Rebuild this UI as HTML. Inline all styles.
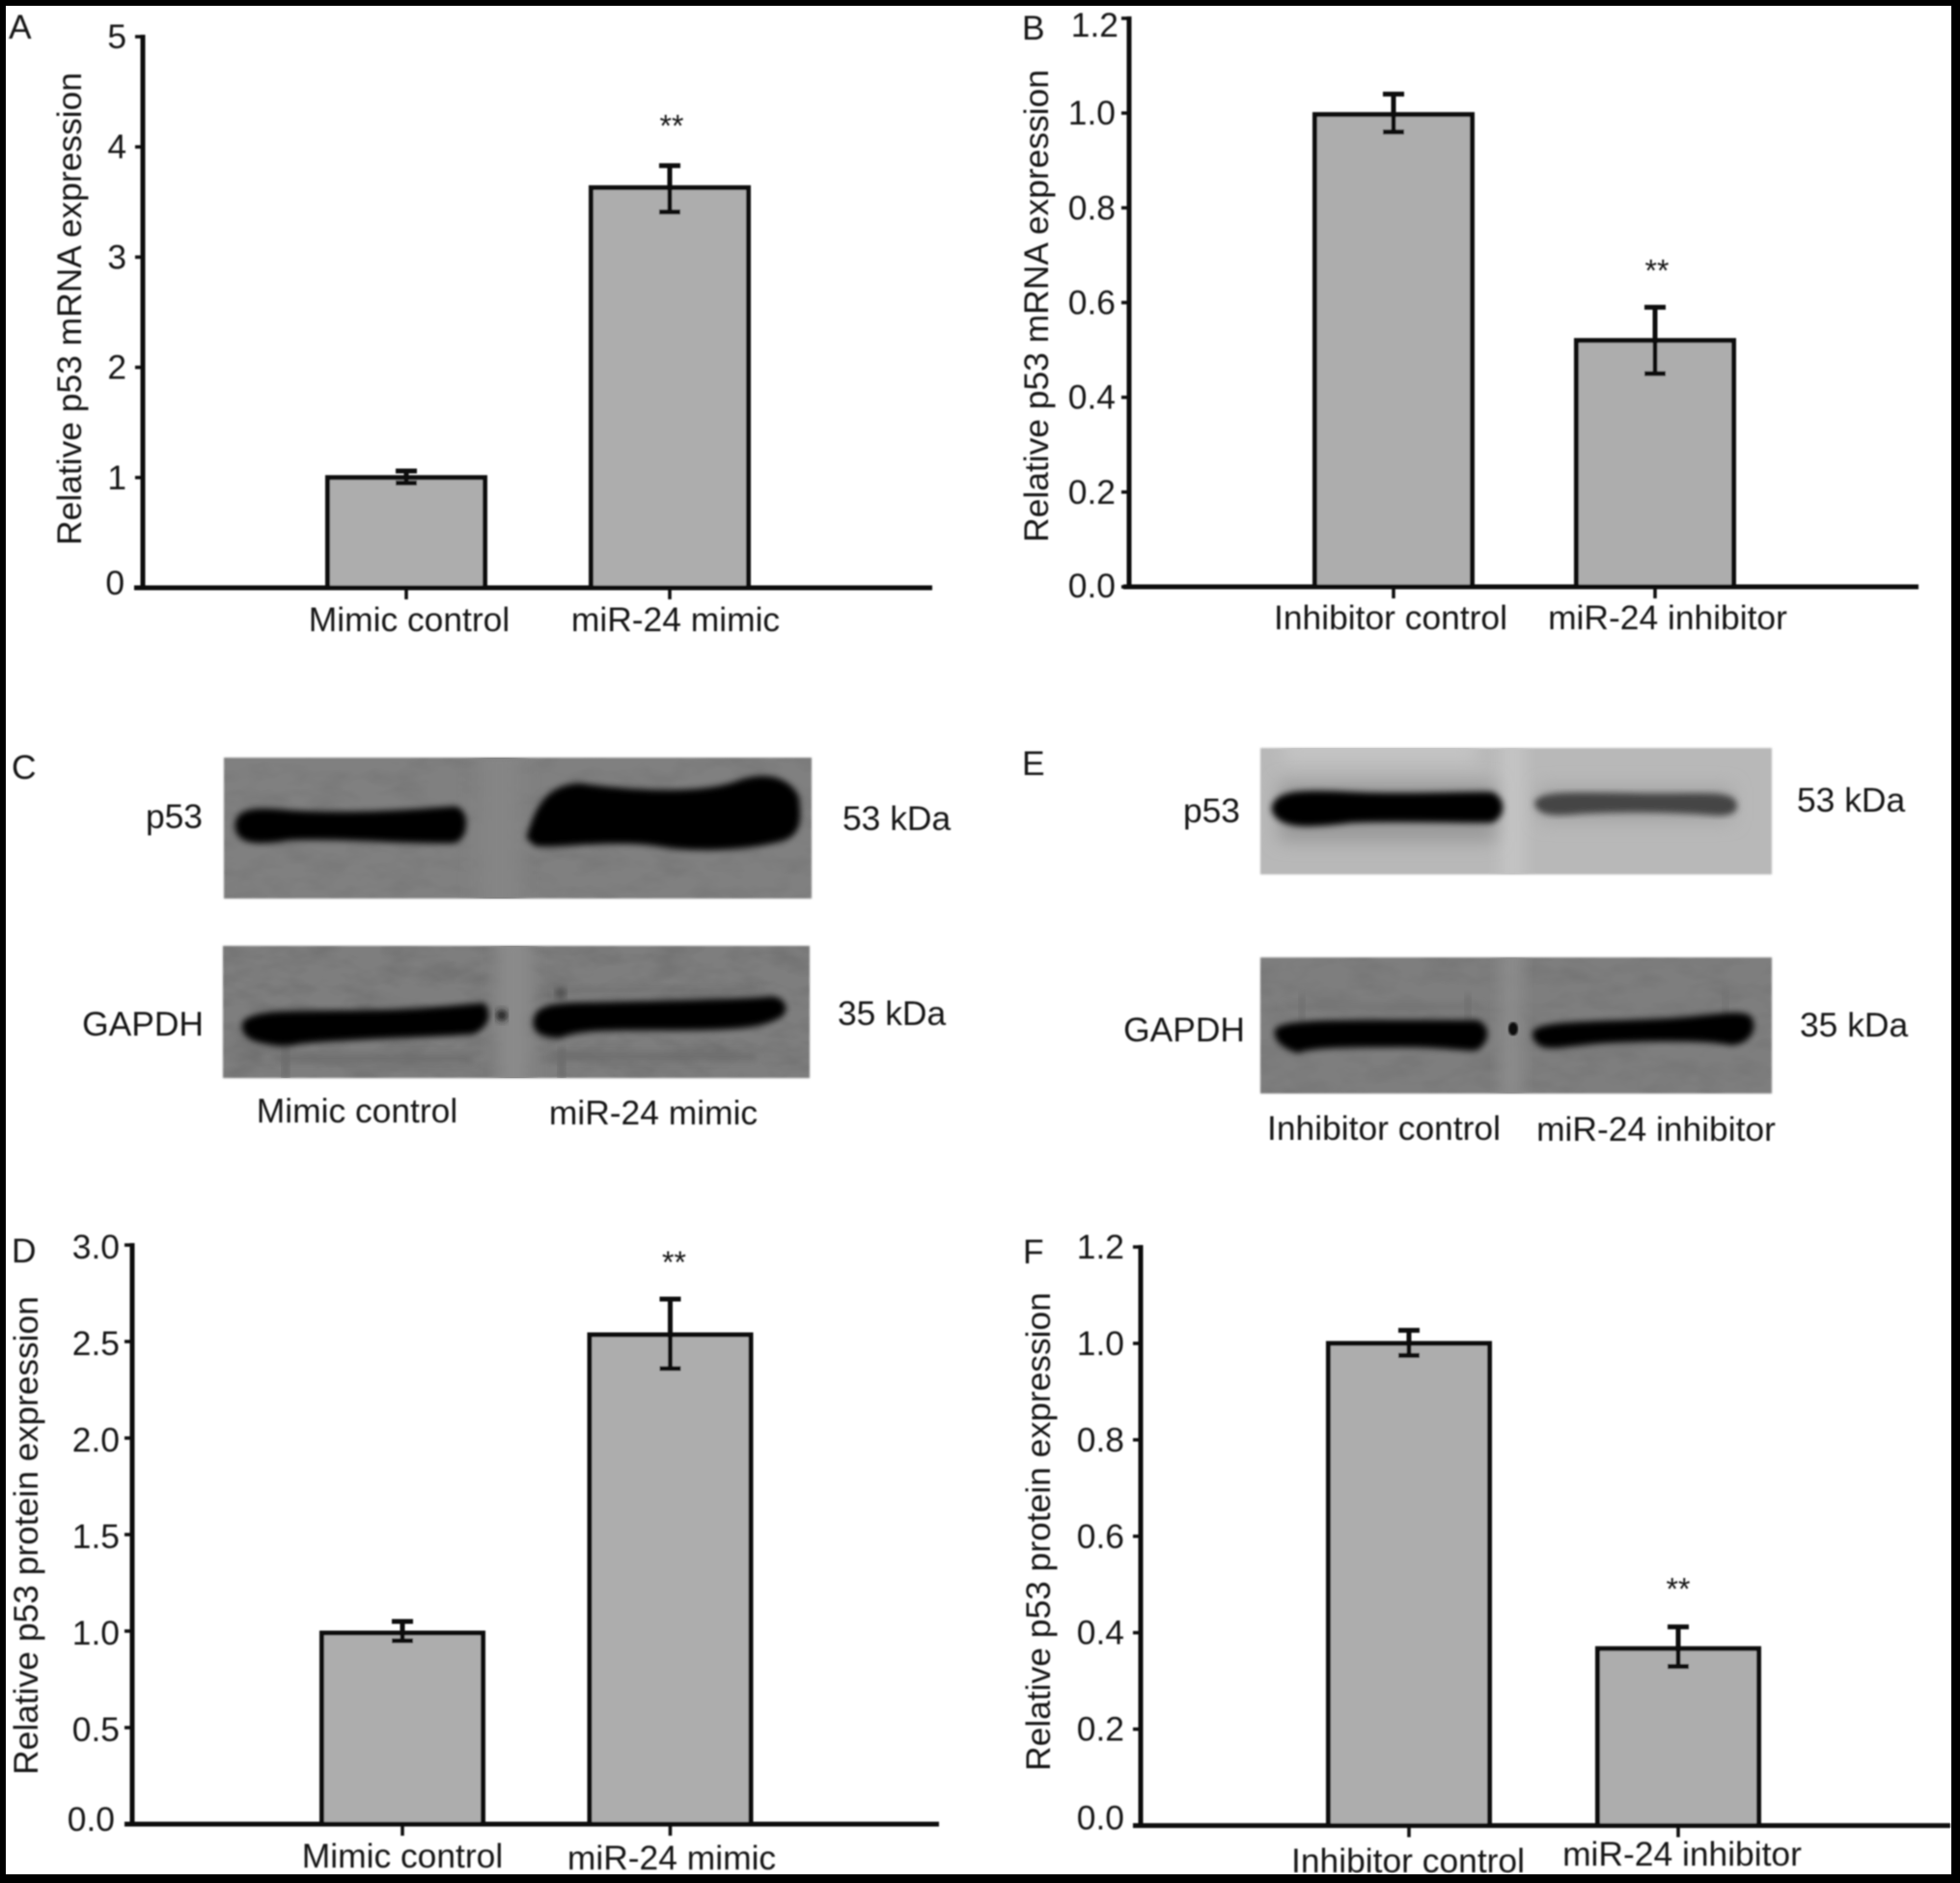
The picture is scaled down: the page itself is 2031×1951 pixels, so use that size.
<!DOCTYPE html>
<html lang="en">
<head>
<meta charset="utf-8">
<title>p53 expression after miR-24 mimic or inhibitor</title>
<style>
html,body{margin:0;padding:0;background:#fff;}
svg{display:block;}
text{font-family:"Liberation Sans",sans-serif;fill:#131313;font-size:35.4px;}
</style>
</head>
<body>
<svg id="figure" xmlns="http://www.w3.org/2000/svg" width="2031" height="1951" viewBox="0 0 2031 1951">
  <defs>
    <filter id="soft" x="-5%" y="-5%" width="110%" height="110%"><feGaussianBlur stdDeviation="0.7"/></filter>
    <filter id="bandBlur" x="-10%" y="-40%" width="120%" height="180%"><feGaussianBlur stdDeviation="3.4"/></filter>
    <filter id="faintBlur" x="-10%" y="-150%" width="120%" height="400%"><feGaussianBlur stdDeviation="4"/></filter>
    <filter id="smudge" x="-60%" y="-60%" width="220%" height="220%"><feGaussianBlur stdDeviation="9"/></filter>
    <filter id="edgeBlur" x="-2%" y="-3%" width="104%" height="106%"><feGaussianBlur stdDeviation="1"/></filter>
    <filter id="mottle" x="0" y="0" width="100%" height="100%">
      <feTurbulence type="fractalNoise" baseFrequency="0.025 0.05" numOctaves="3" seed="7"/>
      <feColorMatrix type="matrix" values="0 0 0 0 0  0 0 0 0 0  0 0 0 0 0  1.6 0 0 0 -0.62"/>
    </filter>
    <clipPath id="clipC1"><rect x="232" y="785" width="609" height="146"/></clipPath>
    <clipPath id="clipC2"><rect x="231" y="980" width="608" height="137"/></clipPath>
    <clipPath id="clipE1"><rect x="1306" y="775" width="530" height="131"/></clipPath>
    <clipPath id="clipE2"><rect x="1306" y="992" width="530" height="141"/></clipPath>
  </defs>
  <rect x="0" y="0" width="2031" height="1951" fill="#ffffff"/>

  <g id="charts" filter="url(#soft)"></g>

  <g>
    <rect x="232" y="785" width="609" height="146" fill="#808080" filter="url(#edgeBlur)"/>
    <g clip-path="url(#clipC1)">
      <rect x="232" y="785" width="609" height="146" filter="url(#mottle)" opacity="0.08"/>
      <rect x="495" y="770" width="45" height="180" fill="#858585" filter="url(#smudge)"/>
      <path filter="url(#bandBlur)" fill="#060606" stroke="#060606" stroke-width="5" d="M246,855 C246,840 265,838 300,842 C360,846 420,842 470,838 C484,838 484,868 470,871 C420,872 360,866 300,868 C265,874 246,872 246,855 Z"/>
      <path filter="url(#bandBlur)" fill="#040404" stroke="#040404" stroke-width="3" d="M547,868 C555,840 565,815 600,813 C650,820 720,825 760,812 C790,800 815,805 826,825 C830,850 828,865 810,870 C770,880 720,882 680,875 C630,868 580,878 555,875 Z"/>
    </g>
    <rect x="231" y="980" width="608" height="137" fill="#7e7e7e" filter="url(#edgeBlur)"/>
    <g clip-path="url(#clipC2)">
      <rect x="231" y="980" width="608" height="137" filter="url(#mottle)" opacity="0.12"/>
      <rect x="515" y="965" width="35" height="170" fill="#8b8b8b" filter="url(#smudge)"/>
      <rect x="285" y="1093" width="205" height="7" fill="#6a6a6a" filter="url(#faintBlur)"/>
      <rect x="572" y="1091" width="212" height="7" fill="#6a6a6a" filter="url(#faintBlur)"/>
      <rect x="575" y="1024" width="210" height="4" fill="#6e6e6e" filter="url(#faintBlur)"/>
      <rect x="292" y="1085" width="8" height="32" fill="#6c6c6c" filter="url(#bandBlur)"/>
      <rect x="578" y="1085" width="8" height="32" fill="#6c6c6c" filter="url(#bandBlur)"/>
      <circle cx="581" cy="1029" r="6" fill="#505050" filter="url(#bandBlur)"/>
      <path filter="url(#bandBlur)" fill="#050505" stroke="#050505" stroke-width="7" d="M255,1060 C270,1048 310,1052 380,1050 C430,1050 470,1045 500,1043 C505,1050 505,1060 490,1068 C440,1072 370,1072 310,1078 C295,1082 285,1080 275,1078 C260,1075 252,1070 255,1060 Z"/>
      <circle cx="520" cy="1052" r="6" fill="#1a1a1a" filter="url(#bandBlur)"/>
      <path filter="url(#bandBlur)" fill="#050505" stroke="#050505" stroke-width="7" d="M556,1060 C556,1045 570,1042 620,1042 C680,1040 750,1040 800,1036 C815,1038 812,1050 805,1052 C790,1060 770,1064 700,1064 C650,1064 600,1062 580,1072 C565,1072 556,1068 556,1060 Z"/>
    </g>
  </g>

  <g>
    <rect x="1306" y="775" width="530" height="131" fill="#b8b8b8" filter="url(#edgeBlur)"/>
    <g clip-path="url(#clipE1)">
      <rect x="1556" y="760" width="22" height="160" fill="#c6c6c6" filter="url(#smudge)"/>
      <rect x="1330" y="760" width="200" height="30" fill="#c4c4c4" filter="url(#smudge)"/>
      <rect x="1325" y="810" width="225" height="62" fill="#9a9a9a" filter="url(#smudge)"/>
      <rect x="1595" y="815" width="200" height="36" fill="#a4a4a4" filter="url(#smudge)"/>
      <path filter="url(#bandBlur)" fill="#030303" stroke="#030303" stroke-width="5" d="M1320,838 C1322,822 1345,820 1400,823 C1460,826 1520,822 1545,823 C1558,828 1558,845 1545,850 C1500,850 1440,848 1400,850 C1360,855 1325,858 1320,838 Z"/>
      <path filter="url(#bandBlur)" fill="#444444" stroke="#444444" stroke-width="6" d="M1593,832 C1598,822 1640,824 1700,825 C1750,826 1785,822 1795,830 C1800,838 1795,842 1780,842 C1730,838 1680,838 1640,840 C1610,843 1595,842 1593,832 Z"/>
    </g>
    <rect x="1306" y="992" width="530" height="141" fill="#7e7e7e" filter="url(#edgeBlur)"/>
    <g clip-path="url(#clipE2)">
      <rect x="1306" y="992" width="530" height="141" filter="url(#mottle)" opacity="0.08"/>
      <rect x="1556" y="975" width="20" height="175" fill="#8e8e8e" filter="url(#smudge)"/>
      <rect x="1330" y="1040" width="205" height="5" fill="#727272" filter="url(#faintBlur)"/>
      <rect x="1346" y="1030" width="6" height="28" fill="#6e6e6e" filter="url(#bandBlur)"/>
      <rect x="1518" y="1030" width="6" height="28" fill="#6e6e6e" filter="url(#bandBlur)"/>
      <rect x="1785" y="1025" width="6" height="28" fill="#727272" filter="url(#bandBlur)"/>
      <path filter="url(#bandBlur)" fill="#050505" stroke="#050505" stroke-width="6" d="M1324,1068 C1335,1058 1400,1060 1530,1060 C1542,1065 1540,1078 1530,1085 C1520,1087 1510,1082 1450,1082 C1400,1082 1360,1082 1345,1088 C1335,1085 1322,1078 1324,1068 Z"/>
      <ellipse cx="1568" cy="1066" rx="5" ry="7" fill="#111111" filter="url(#edgeBlur)"/>
      <path filter="url(#bandBlur)" fill="#050505" stroke="#050505" stroke-width="6" d="M1591,1070 C1600,1060 1660,1062 1730,1058 C1770,1056 1800,1048 1812,1055 C1818,1065 1812,1078 1795,1080 C1770,1075 1720,1075 1660,1078 C1630,1080 1610,1085 1600,1082 C1594,1080 1590,1075 1591,1070 Z"/>
    </g>
  </g>

  <g filter="url(#soft)">
    <text x="12" y="807">C</text>
    <text x="210" y="858" text-anchor="end">p53</text>
    <text x="211" y="1073" text-anchor="end">GAPDH</text>
    <text x="873" y="860">53 kDa</text>
    <text x="868" y="1062">35 kDa</text>
    <text x="370" y="1163" text-anchor="middle">Mimic control</text>
    <text x="677" y="1165" text-anchor="middle">miR-24 mimic</text>

    <text x="1059" y="803">E</text>
    <text x="1285" y="852" text-anchor="end">p53</text>
    <text x="1290" y="1079" text-anchor="end">GAPDH</text>
    <text x="1862" y="841">53 kDa</text>
    <text x="1865" y="1074">35 kDa</text>
    <text x="1434" y="1181" text-anchor="middle">Inhibitor control</text>
    <text x="1716" y="1182" text-anchor="middle">miR-24 inhibitor</text>
  </g>

  <g fill="#000000">
    <rect x="0" y="0" width="2031" height="6"/>
    <rect x="0" y="0" width="6" height="1951"/>
    <rect x="2022" y="0" width="9" height="1951"/>
    <rect x="0" y="1942" width="2031" height="9"/>
  </g>
</svg>

<script>
// Panel A – p53 mRNA, mimic
const panelACategories = ["Mimic control", "miR-24 mimic"];
const panelAValues = [1.0, 3.63];
const panelAErrLow = [0.95, 3.41];
const panelAErrHigh = [1.06, 3.83];
const panelATicks = [0, 1, 2, 3, 4, 5];
const panelATickLabels = ["0", "1", "2", "3", "4", "5"];

// Panel B – p53 mRNA, inhibitor
const panelBCategories = ["Inhibitor control", "miR-24 inhibitor"];
const panelBValues = [0.997, 0.52];
const panelBErrLow = [0.96, 0.45];
const panelBErrHigh = [1.04, 0.59];
const panelBTicks = [0, 0.2, 0.4, 0.6, 0.8, 1.0, 1.2];
const panelBTickLabels = ["0.0", "0.2", "0.4", "0.6", "0.8", "1.0", "1.2"];

// Panel D – p53 protein, mimic
const panelDCategories = ["Mimic control", "miR-24 mimic"];
const panelDValues = [0.99, 2.535];
const panelDErrLow = [0.95, 2.36];
const panelDErrHigh = [1.05, 2.72];
const panelDTicks = [0, 0.5, 1.0, 1.5, 2.0, 2.5, 3.0];
const panelDTickLabels = ["0.0", "0.5", "1.0", "1.5", "2.0", "2.5", "3.0"];

// Panel F – p53 protein, inhibitor
const panelFCategories = ["Inhibitor control", "miR-24 inhibitor"];
const panelFValues = [1.0, 0.367];
const panelFErrLow = [0.975, 0.33];
const panelFErrHigh = [1.027, 0.412];
const panelFTicks = [0, 0.2, 0.4, 0.6, 0.8, 1.0, 1.2];
const panelFTickLabels = ["0.0", "0.2", "0.4", "0.6", "0.8", "1.0", "1.2"];

const SVG_NS = "http://www.w3.org/2000/svg";
const chartsRoot = document.getElementById("charts");

function make(parent, tag, attrs, content) {
  const el = document.createElementNS(SVG_NS, tag);
  for (const key in attrs) el.setAttribute(key, attrs[key]);
  if (content !== undefined) el.textContent = content;
  parent.appendChild(el);
  return el;
}

function drawPanel(p) {
  const group = make(chartsRoot, "g", {});
  
  

  const yScale = v => p.baseY - (v / p.maxTick) * (p.baseY - p.topY);
  const xBand = i => p.firstBar + i * p.barStep;
  const xLabel = i => p.firstLabel + i * p.labelStep;
  const ink = "#0a0a0a";

  const letter = make(group, "text", { x: p.letterX, y: p.letterY }, p.id.toUpperCase());
  
  

  const title = make(group, "text", {
    x: p.titleX, y: p.titleY, "text-anchor": "middle",
    transform: "rotate(-90 " + p.titleX + " " + p.titleY + ")"
  }, p.title);
  
  

  p.values.forEach((value, i) => {
    const cx = xBand(i);
    const bar = make(group, "rect", {
      x: cx - p.barWidth / 2, y: yScale(value),
      width: p.barWidth, height: p.baseY - yScale(value),
      fill: "#adadad", stroke: ink, "stroke-width": 5
    });
    
    

    const errY1 = yScale(p.errHigh[i]);
    const errY2 = yScale(p.errLow[i]);
    const err = make(group, "path", {
      d: "M" + cx + " " + errY1 + "V" + errY2 +
         "M" + (cx - 11) + " " + errY1 + "H" + (cx + 11) +
         "M" + (cx - 11) + " " + errY2 + "H" + (cx + 11),
      fill: "none", stroke: ink, "stroke-width": 5
    });
    
    

    const xTick = make(group, "line", {
      x1: cx, x2: cx, y1: p.baseY, y2: p.baseY + 12,
      stroke: ink, "stroke-width": 3.5
    });
    
    

    const label = make(group, "text", {
      x: xLabel(i), y: p.labelY + i * p.labelDrop, "text-anchor": "middle"
    }, p.categories[i]);
    
    
  });

  const sigIndex = p.sigBar;
  const stars = make(group, "text", {
    x: xBand(sigIndex) + p.starDx, y: yScale(p.errHigh[sigIndex]) - p.starGap + 14,
    "text-anchor": "middle", style: "font-size:32px"
  }, "**");
  
  

  const yAxis = make(group, "line", {
    x1: p.axisX, x2: p.axisX, y1: p.topY - 2, y2: p.baseY,
    stroke: ink, "stroke-width": 5
  });
  
  

  const xAxis = make(group, "line", {
    x1: p.xAxisStart, x2: p.xAxisEnd, y1: p.baseY, y2: p.baseY,
    stroke: ink, "stroke-width": 5
  });
  
  

  p.ticks.forEach((tick, i) => {
    const y = yScale(tick);
    const nudge = (p.nudges && p.nudges[i]) || { dx: 0, dy: 0 };
    const mark = make(group, "line", {
      x1: p.axisX - 8, x2: p.axisX, y1: y, y2: y,
      stroke: ink, "stroke-width": 3.5
    });
    
    

    const label = make(group, "text", {
      x: p.tickRight + nudge.dx, y: y + 12 + p.tickDy + nudge.dy, "text-anchor": "end"
    }, p.tickLabels[i]);
    
    
  });
}

drawPanel({
  id: "a", title: "Relative p53 mRNA expression",
  categories: panelACategories, values: panelAValues, errLow: panelAErrLow, errHigh: panelAErrHigh,
  ticks: panelATicks, tickLabels: panelATickLabels, maxTick: 5,
  axisX: 148, topY: 38, baseY: 609, xAxisStart: 139, xAxisEnd: 966,
  firstBar: 421, barStep: 273, barWidth: 163,
  firstLabel: 424, labelStep: 276, labelY: 654, labelDrop: 0,
  tickRight: 131, tickDy: 0, nudges: { 0: { dx: -2, dy: -5 } },
  titleX: 84, titleY: 320, letterX: 9, letterY: 40,
  sigBar: 1, starGap: 44, starDx: 2
});

drawPanel({
  id: "b", title: "Relative p53 mRNA expression",
  categories: panelBCategories, values: panelBValues, errLow: panelBErrLow, errHigh: panelBErrHigh,
  ticks: panelBTicks, tickLabels: panelBTickLabels, maxTick: 1.2,
  axisX: 1170, topY: 19, baseY: 608, xAxisStart: 1164, xAxisEnd: 1988,
  firstBar: 1444, barStep: 271, barWidth: 163,
  firstLabel: 1441, labelStep: 287, labelY: 652, labelDrop: 0,
  tickRight: 1156, tickDy: 0, nudges: { 0: { dx: 0, dy: -1 }, 6: { dx: 3, dy: 7 } },
  titleX: 1086, titleY: 317, letterX: 1059, letterY: 41,
  sigBar: 1, starGap: 41, starDx: 2
});

drawPanel({
  id: "d", title: "Relative p53 protein expression",
  categories: panelDCategories, values: panelDValues, errLow: panelDErrLow, errHigh: panelDErrHigh,
  ticks: panelDTicks, tickLabels: panelDTickLabels, maxTick: 3,
  axisX: 137, topY: 1290, baseY: 1890, xAxisStart: 129, xAxisEnd: 973,
  firstBar: 417, barStep: 277.5, barWidth: 167,
  firstLabel: 417, labelStep: 279, labelY: 1935, labelDrop: 2,
  tickRight: 124, tickDy: 2, nudges: { 0: { dx: -5, dy: -7 } },
  titleX: 39, titleY: 1591, letterX: 12, letterY: 1308,
  sigBar: 1, starGap: 41, starDx: 4
});

drawPanel({
  id: "f", title: "Relative p53 protein expression",
  categories: panelFCategories, values: panelFValues, errLow: panelFErrLow, errHigh: panelFErrHigh,
  ticks: panelFTicks, tickLabels: panelFTickLabels, maxTick: 1.2,
  axisX: 1182, topY: 1292, baseY: 1891.5, xAxisStart: 1174, xAxisEnd: 2021,
  firstBar: 1460, barStep: 279, barWidth: 167,
  firstLabel: 1459, labelStep: 284, labelY: 1940, labelDrop: -7,
  tickRight: 1165, tickDy: 0, nudges: { 0: { dx: 0, dy: -8 } },
  titleX: 1088, titleY: 1587, letterX: 1060, letterY: 1309,
  sigBar: 1, starGap: 42, starDx: 0
});
</script>
</body>
</html>
